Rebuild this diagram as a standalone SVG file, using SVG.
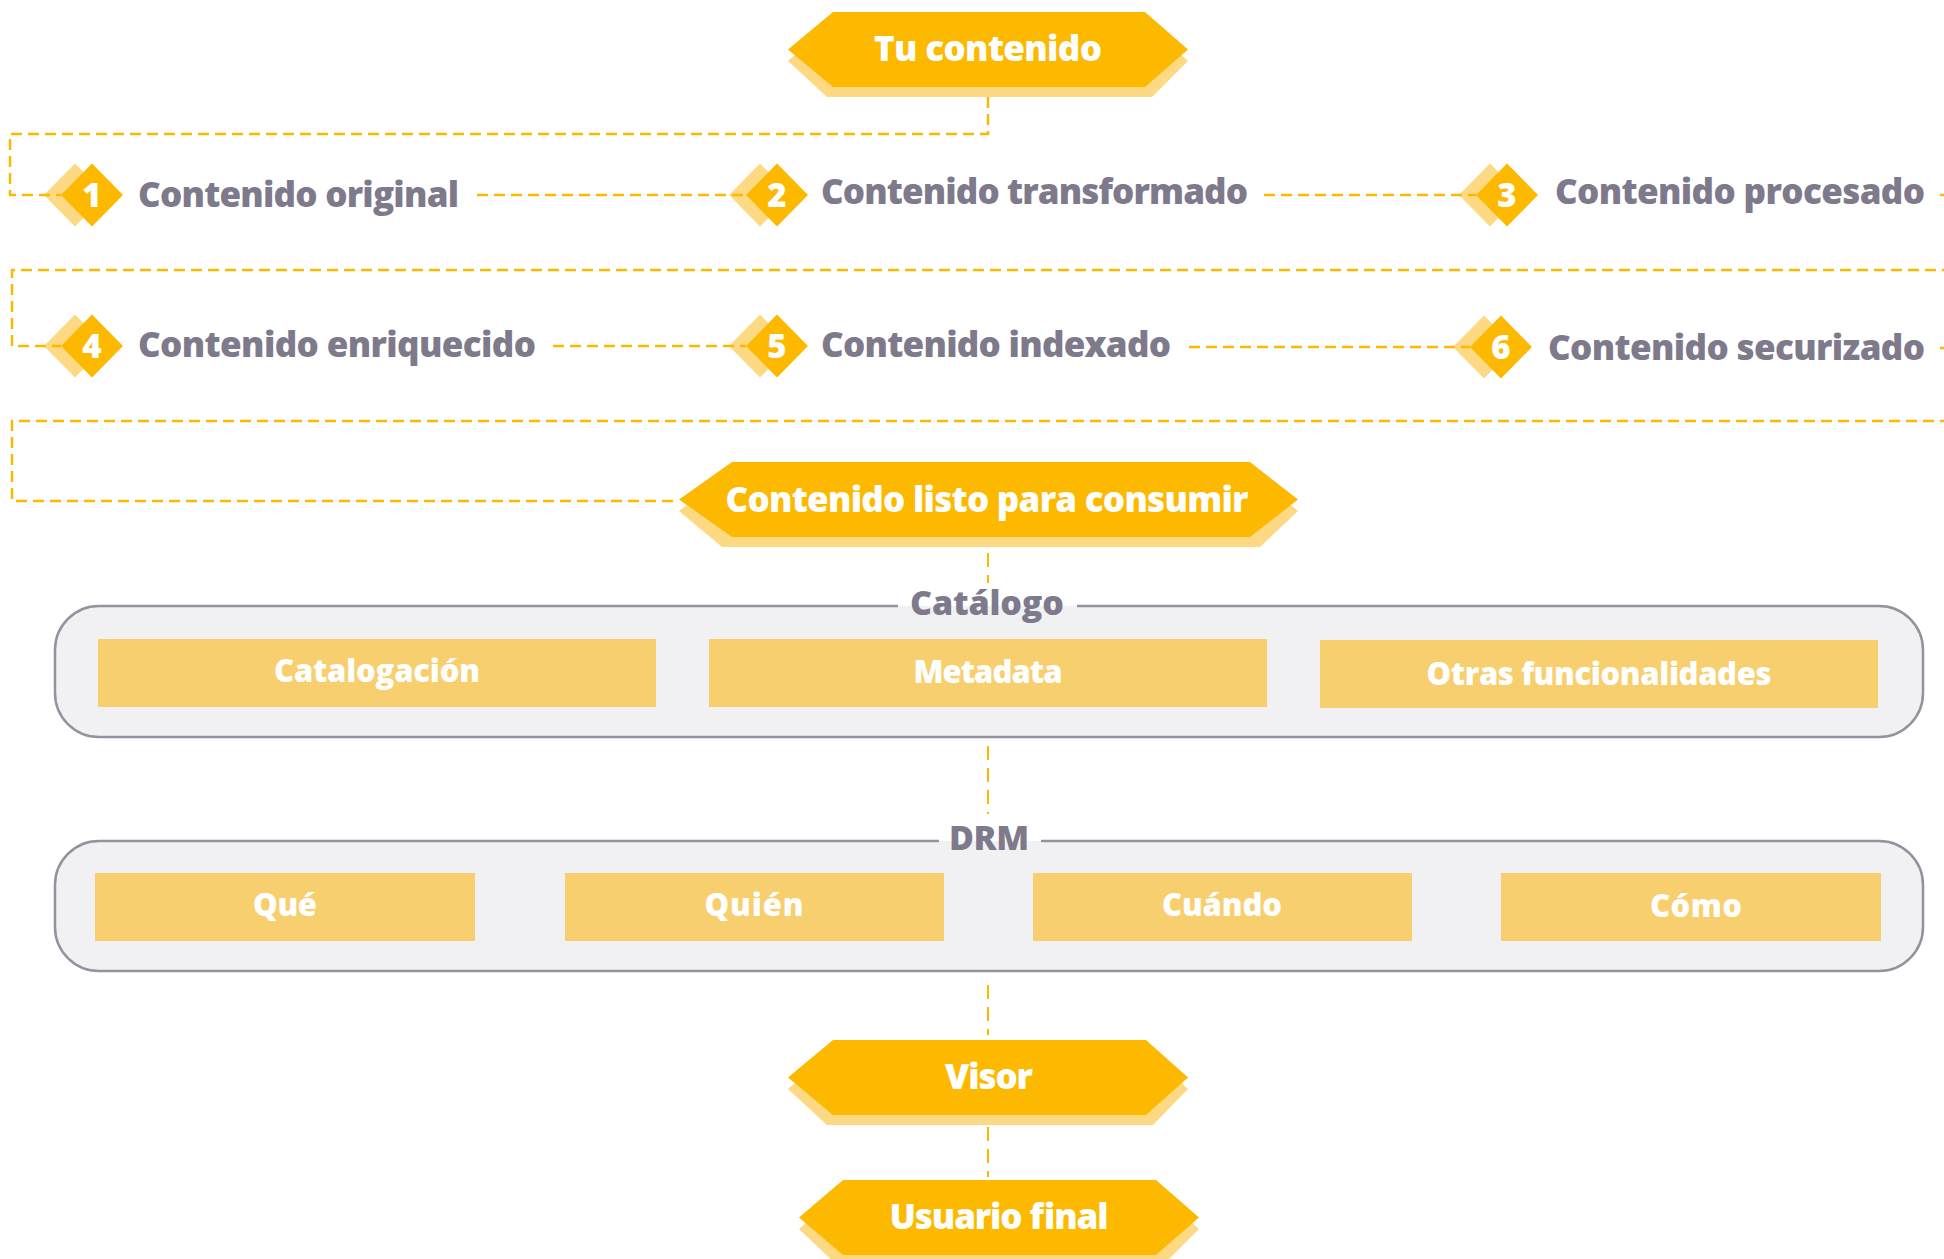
<svg xmlns="http://www.w3.org/2000/svg" width="1944" height="1259" viewBox="0 0 1944 1259">
  <defs>
    <style>
      .hex { fill: #FCB900; }
      .hexsh { fill: #FDD983; }
      .dia { fill: #FCB900; }
      .diash { fill: #FDD983; }
      .hext { font-family: 'Open Sans', 'Liberation Sans', sans-serif; font-weight: 800; font-size: 35px; fill: #FFFFFF; text-anchor: middle; }
      .num { font-family: 'Open Sans', 'Liberation Sans', sans-serif; font-weight: 800; font-size: 33px; fill: #FFFFFF; text-anchor: middle; }
      .step { font-family: 'Open Sans', 'Liberation Sans', sans-serif; font-weight: 800; font-size: 35px; fill: #7E7A8C; }
      .grp { fill: #F1F1F3; }
      .grpb { fill: none; stroke: #95929F; stroke-width: 2.5; }
      .grpt { font-family: 'Open Sans', 'Liberation Sans', sans-serif; font-weight: 800; font-size: 34px; fill: #7E7A8C; text-anchor: middle; }
      .item { fill: #F7CF6E; }
      .itemt { font-family: 'Open Sans', 'Liberation Sans', sans-serif; font-weight: 800; font-size: 31px; fill: #FFFFFF; text-anchor: middle; }
      .conn { fill: none; stroke: #FCB900; stroke-width: 2.5; stroke-dasharray: 11 6; }
      .connv { fill: none; stroke: #FCB900; stroke-width: 2; stroke-dasharray: 14 8; }
    </style>
  </defs>

  <!-- Nodes -->
  <g id="tu-contenido">
    <polygon class="hexsh" points="788,61 833,22 1145,22 1188,61 1152,97 827,97"/>
    <polygon class="hex" points="788,49.5 833,12 1145,12 1188,49.5 1145,87 833,87"/>
    <text class="hext" x="988" y="61" textLength="228">Tu contenido</text>
  </g>

  <g id="step-1">
    <polygon class="diash" points="75,163.5 106,195 75,226.5 44,195"/>
    <polygon class="dia" points="92,163.5 123,195 92,226.5 61,195"/>
    <text class="num" x="92" y="207">1</text>
    <text class="step" x="138" y="207" textLength="321">Contenido original</text>
  </g>
  <g id="step-2">
    <polygon class="diash" points="760,163.5 791,195 760,226.5 729,195"/>
    <polygon class="dia" points="777,163.5 808,195 777,226.5 746,195"/>
    <text class="num" x="777" y="207">2</text>
    <text class="step" x="821" y="204" textLength="427">Contenido transformado</text>
  </g>
  <g id="step-3">
    <polygon class="diash" points="1490,163.5 1521,195 1490,226.5 1459,195"/>
    <polygon class="dia" points="1507,163.5 1538,195 1507,226.5 1476,195"/>
    <text class="num" x="1507" y="207">3</text>
    <text class="step" x="1555" y="204" textLength="370">Contenido procesado</text>
  </g>
  <g id="step-4">
    <polygon class="diash" points="75,314.5 106,346 75,377.5 44,346"/>
    <polygon class="dia" points="92,314.5 123,346 92,377.5 61,346"/>
    <text class="num" x="92" y="358">4</text>
    <text class="step" x="138" y="357" textLength="398">Contenido enriquecido</text>
  </g>
  <g id="step-5">
    <polygon class="diash" points="760,314.5 791,346 760,377.5 729,346"/>
    <polygon class="dia" points="777,314.5 808,346 777,377.5 746,346"/>
    <text class="num" x="777" y="358">5</text>
    <text class="step" x="821" y="357" textLength="350">Contenido indexado</text>
  </g>
  <g id="step-6">
    <polygon class="diash" points="1484,315.5 1515,347 1484,378.5 1453,347"/>
    <polygon class="dia" points="1501,315.5 1532,347 1501,378.5 1470,347"/>
    <text class="num" x="1501" y="359">6</text>
    <text class="step" x="1548" y="360" textLength="377">Contenido securizado</text>
  </g>

  <g id="contenido-listo">
    <polygon class="hexsh" points="679,511 732,472 1250,472 1298,511 1260,547 722,547"/>
    <polygon class="hex" points="679,499.5 732,462 1250,462 1298,499.5 1250,537 732,537"/>
    <text class="hext" x="987" y="512" textLength="523">Contenido listo para consumir</text>
  </g>

  <g id="catalogo">
    <rect class="grp" x="55" y="606" width="1868" height="131" rx="44"/>
    <path class="grpb" d="M1077,606 H1879 A44,44 0 0 1 1923,650 V693 A44,44 0 0 1 1879,737 H99 A44,44 0 0 1 55,693 V650 A44,44 0 0 1 99,606 H898"/>
    <text class="grpt" x="987" y="615" textLength="154">Catálogo</text>
    <g id="catalogacion">
      <rect class="item" x="98" y="639" width="558" height="68"/>
      <text class="itemt" x="377" y="682" textLength="206">Catalogación</text>
    </g>
    <g id="metadata">
      <rect class="item" x="709" y="639" width="558" height="68"/>
      <text class="itemt" x="988" y="683" textLength="149">Metadata</text>
    </g>
    <g id="otras">
      <rect class="item" x="1320" y="640" width="558" height="68"/>
      <text class="itemt" x="1599" y="685" textLength="345">Otras funcionalidades</text>
    </g>
  </g>

  <g id="drm">
    <rect class="grp" x="55" y="841" width="1868" height="130" rx="44"/>
    <path class="grpb" d="M1041,841 H1879 A44,44 0 0 1 1923,885 V927 A44,44 0 0 1 1879,971 H99 A44,44 0 0 1 55,927 V885 A44,44 0 0 1 99,841 H939"/>
    <text class="grpt" x="989" y="850" textLength="80">DRM</text>
    <g id="que">
      <rect class="item" x="95" y="873" width="380" height="68"/>
      <text class="itemt" x="285" y="916" textLength="64">Qué</text>
    </g>
    <g id="quien">
      <rect class="item" x="565" y="873" width="379" height="68"/>
      <text class="itemt" x="754" y="916" textLength="99">Quién</text>
    </g>
    <g id="cuando">
      <rect class="item" x="1033" y="873" width="379" height="68"/>
      <text class="itemt" x="1222" y="916" textLength="120">Cuándo</text>
    </g>
    <g id="como">
      <rect class="item" x="1501" y="873" width="380" height="68"/>
      <text class="itemt" x="1696" y="917" textLength="92">Cómo</text>
    </g>
  </g>

  <g id="visor">
    <polygon class="hexsh" points="788,1089 833,1050 1146,1050 1188,1089 1153,1125 827,1125"/>
    <polygon class="hex" points="788,1077.5 833,1040 1146,1040 1188,1077.5 1146,1115 833,1115"/>
    <text class="hext" x="989" y="1089" textLength="88">Visor</text>
  </g>

  <g id="usuario-final">
    <polygon class="hexsh" points="799,1229 843,1190 1156,1190 1199,1229 1163,1265 837,1265"/>
    <polygon class="hex" points="799,1217.5 843,1180 1156,1180 1199,1217.5 1156,1255 843,1255"/>
    <text class="hext" x="999" y="1229" textLength="219">Usuario final</text>
  </g>

  <!-- Connectors -->
  <g id="connectors">
    <path class="conn" d="M988,97 V134 H10 V195 H61"/>
    <path class="conn" d="M477,195 H746"/>
    <path class="conn" d="M1264,195 H1476"/>
    <path class="conn" d="M1940,195 H1960 V270 H12 V346 H61"/>
    <path class="conn" d="M553,346 H746"/>
    <path class="conn" d="M1189,347 H1470"/>
    <path class="conn" d="M1940,348 H1960 V421 H12 V501 H679"/>
    <path class="connv" d="M988,553 V583"/>
    <path class="connv" d="M988,746 V814"/>
    <path class="connv" d="M988,985 V1035"/>
    <path class="connv" d="M988,1127 V1177"/>
  </g>
</svg>
